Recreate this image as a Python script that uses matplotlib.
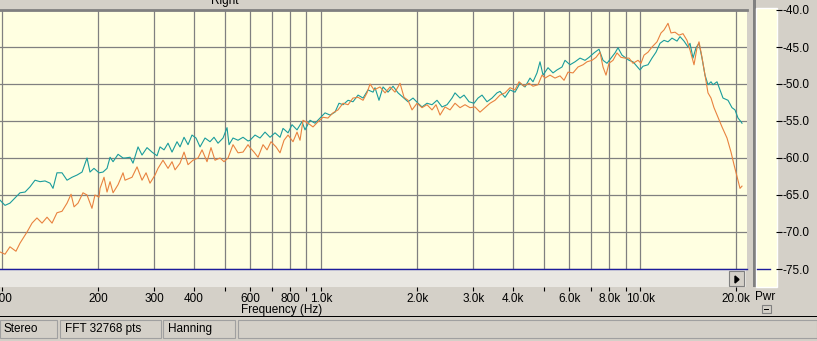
import matplotlib.pyplot as plt
from matplotlib.patches import Rectangle, Polygon
from matplotlib.ticker import NullLocator

# spectrum, right channel: two traces (teal / orange), frequency in Hz, level in dB
teal_freq = [98.6, 102.2, 105.9, 109.8, 113.9, 118.1, 122.4, 126.9, 131.6, 136.4,
             141.4, 144.5, 148.7, 154.2, 159.9, 165.8, 171.9, 178.2, 184.7, 188.7,
             194.2, 201.4, 207.3, 213.4, 218.1, 222.9, 231.1, 239.5,
             243.0, 251.9, 257.4, 266.9, 274.7, 284.8, 295.2, 306.1, 312.8, 322.0,
             331.4, 341.1, 353.6, 361.4, 372.0, 382.9, 394.0, 405.6, 417.5, 432.8,
             448.7, 461.8, 475.4, 492.9, 507.3, 514.7, 529.7, 549.2, 569.4, 590.3,
             598.9, 620.9, 643.7, 667.3, 691.9, 717.3, 743.7, 760.0, 787.9, 810.9,
             840.7, 871.6, 890.7, 923.4, 957.3, 992.5, 1029, 1067, 1106, 1138,
             1172, 1215, 1259, 1306, 1354, 1403, 1455,
             1476, 1519, 1564, 1621, 1681, 1743, 1807, 1873, 1942, 2013,
             2072, 2148, 2227, 2309, 2394, 2482, 2573, 2629, 2726, 2806,
             2909, 3016, 3104, 3195, 3312, 3434, 3560,
             3638, 3772, 3910, 4054, 4203, 4357, 4517, 4616, 4751, 4855,
             4962, 5144, 5333, 5489, 5691, 5815, 6029, 6250, 6480, 6718,
             6915, 7169, 7432, 7650, 7874, 8105, 8342, 8525, 8774,
             8966, 9229, 9499, 9848, 9991, 10210, 10585, 10895, 11214, 11542,
             11880, 12228, 12586, 13049, 13334, 13725, 14126, 14332, 14646, 14966,
             15294, 15628, 15970, 16319, 16677, 16919, 17415, 17796, 18186, 18854,
             19406, 19831, 20265, 20708, 20858]
teal_db = [-65.7, -66.4, -66.1, -65.4, -64.7, -64.6, -63.9, -63.0, -63.2, -63.1,
           -63.4, -64.1, -62.0, -62.0, -63.0, -62.6, -62.3, -61.9, -60.0, -61.9,
           -61.4, -62.0, -61.9, -61.4, -59.9, -60.5, -59.5, -60.0,
           -60.0, -59.9, -60.7, -58.5, -59.6, -58.6, -59.2, -59.7, -58.5, -58.9,
           -58.0, -59.2, -57.8, -58.5, -57.2, -58.2, -56.9, -57.3, -58.5, -57.3,
           -57.8, -57.2, -58.0, -57.3, -55.9, -58.2, -57.3, -57.6, -57.2, -57.7,
           -57.6, -56.9, -57.3, -56.5, -57.2, -56.6, -57.2, -56.0, -56.6, -55.5,
           -56.2, -55.1, -56.2, -54.9, -55.3, -54.6, -53.9, -54.2, -53.8, -52.6,
           -52.8, -52.2, -52.4, -51.5, -51.9, -50.8, -51.1,
           -50.5, -52.2, -50.4, -51.1, -50.3, -51.2, -51.8, -52.4, -51.9, -52.6,
           -53.1, -52.6, -52.8, -52.2, -53.1, -52.8, -51.9, -51.2, -51.9, -51.5,
           -52.4, -52.6, -51.9, -51.5, -52.4, -51.9, -51.2,
           -51.0, -51.8, -50.8, -51.1, -49.9, -50.4, -49.2, -49.7, -48.5, -47.0,
           -48.8, -47.8, -48.5, -48.1, -47.7, -46.8, -47.4, -47.0, -46.5, -46.8,
           -46.4, -45.8, -45.3, -46.8, -47.2, -46.5, -45.8, -45.1, -46.1,
           -46.4, -46.8, -47.0, -47.8, -48.1, -47.6, -47.4, -46.5, -45.7, -44.5,
           -44.1, -44.3, -43.8, -44.2, -43.6, -44.2, -45.0, -44.5, -46.5, -45.1,
           -44.5, -46.5, -48.8, -50.1, -49.7, -50.1, -49.7, -50.8, -51.9, -52.2,
           -53.2, -53.5, -54.6, -55.1, -55.3]

orange_freq = [98.6, 102.2, 105.9, 110.6, 113.9, 119.8, 124.2, 128.7, 133.5, 138.4,
               143.5, 148.7, 154.2, 159.9, 164.6, 168.2, 173.1, 179.4, 184.7, 191.4,
               195.6, 201.4, 202.9, 208.8, 213.4, 218.1, 222.9, 231.1, 239.5,
               243.0, 255.6, 265.0, 274.7, 282.8, 291.0, 301.7, 308.3, 319.6, 331.4,
               341.1, 348.6, 361.4, 372.0, 382.9, 396.9, 411.5, 423.6, 439.1, 451.9,
               465.2, 482.3, 496.4, 511.0, 529.7, 549.2, 569.4, 590.3,
               598.9, 616.4, 634.5, 657.8, 677.1, 696.9, 722.5, 743.7, 765.5, 787.9,
               816.8, 840.7, 859.1, 877.9, 910.2, 943.6, 978.3, 1014, 1051, 1090,
               1130, 1172, 1215, 1259, 1306, 1354, 1393, 1424, 1466,
               1530, 1587, 1645, 1705, 1768, 1820, 1873, 1928, 1999, 2072,
               2148, 2227, 2292, 2360, 2446, 2536, 2629, 2726, 2826, 2930,
               3037, 3149, 3265, 3385, 3509,
               3638, 3772, 3910, 4054, 4173, 4326, 4485, 4616, 4786, 4926,
               5034, 5219, 5410, 5609, 5774, 5943, 6161, 6387, 6622, 6816,
               7066, 7273, 7486, 7650, 7817, 7988, 8222, 8463, 8711,
               8966, 9229, 9499, 9848, 10063, 10284, 10585, 10895, 11295, 11626,
               11880, 12228, 12496, 12862, 13238, 13626, 14025, 14332, 14752, 15075,
               15294, 15628, 15970, 16319, 16677, 17042, 17541, 18055, 18718, 19266,
               19688, 20265, 20559, 20858]
orange_db = [-72.7, -73.0, -72.0, -72.6, -71.5, -70.0, -68.8, -68.1, -68.8, -68.0,
             -68.8, -67.4, -67.2, -66.1, -64.9, -66.6, -66.1, -64.7, -65.0, -66.8,
             -65.0, -65.3, -64.1, -62.6, -64.6, -63.2, -64.7, -63.6, -62.0,
             -63.0, -62.6, -61.2, -63.0, -62.0, -63.4, -62.3, -61.4, -60.3, -61.4,
             -60.5, -61.6, -60.7, -59.2, -60.9, -60.3, -60.0, -58.9, -60.5, -58.6,
             -60.3, -60.0, -60.5, -60.0, -58.2, -59.3, -59.2, -58.2,
             -58.6, -59.2, -59.9, -58.2, -58.9, -57.8, -58.5, -59.3, -57.6, -56.9,
             -57.8, -56.5, -57.6, -54.9, -55.3, -55.8, -55.1, -54.5, -54.6, -53.9,
             -53.5, -52.6, -52.8, -51.9, -51.8, -52.2, -51.2, -50.0, -50.8,
             -50.4, -51.2, -50.4, -51.1, -49.9, -51.8, -52.2, -53.5, -52.6, -53.2,
             -52.8, -53.5, -52.8, -54.2, -53.1, -53.5, -52.6, -53.2, -52.8, -53.2,
             -53.1, -53.8, -53.2, -52.6, -52.2,
             -51.5, -51.2, -50.5, -50.8, -49.7, -50.3, -49.9, -50.3, -50.1, -48.8,
             -49.2, -48.8, -49.2, -48.9, -49.5, -48.4, -48.5, -47.7, -47.4, -47.0,
             -46.8, -46.4, -45.7, -47.7, -48.8, -47.2, -46.8, -45.8, -46.4,
             -46.5, -46.5, -47.2, -46.8, -47.2, -46.1, -45.7, -45.0, -44.3, -43.1,
             -42.7, -41.8, -43.1, -43.0, -43.4, -43.2, -44.1, -45.4, -47.4, -45.1,
             -44.3, -46.4, -48.8, -51.2, -51.9, -53.2, -54.5, -55.8, -57.3, -59.2,
             -60.9, -63.0, -64.1, -63.8]

tick_freqs = [100, 200, 300, 400, 500, 600, 700, 800, 900, 1000,
              2000, 3000, 4000, 5000, 6000, 7000, 8000, 9000, 10000, 20000]
tick_labels = ['100', '200', '300', '400', '', '600', '', '800', '', '1.0k',
               '2.0k', '3.0k', '4.0k', '', '6.0k', '', '8.0k', '', '10.0k', '20.0k']
pwr_ticks = [-40, -45, -50, -55, -60, -65, -70, -75]
pwr_labels = ['-40.0', '-45.0', '-50.0', '-55.0', '-60.0', '-65.0', '-70.0', '-75.0']

W, H = 817, 341
GRAY = '#d4d0c8'
YELLOW = '#ffffe1'
plt.rcParams['font.family'] = ['Liberation Sans', 'DejaVu Sans']
plt.rcParams['font.size'] = 8.5


def box(x0, y0, x1, y1):
    # pixel box, origin top-left -> figure fraction
    return [x0 / W, 1 - y1 / H, (x1 - x0) / W, (y1 - y0) / H]


def rect(x0, y0, x1, y1, **kw):
    l, b, w, h = box(x0, y0, x1, y1)
    fig.patches.append(Rectangle((l, b), w, h, transform=fig.transFigure,
                                 zorder=-1, **kw))


def ftext(x, y, s, **kw):
    fig.text(x / W, 1 - y / H, s, **kw)


fig = plt.figure(figsize=(W / 100, H / 100), dpi=100, facecolor=GRAY)

# window chrome (drawn under the axes)
rect(0, 269.5, 746, 287, facecolor='#e9e7e2', edgecolor='none')
rect(729, 271, 744, 286, facecolor=GRAY, edgecolor='#808080', lw=0.8)
pts = [(735 / W, 1 - 276 / H), (735 / W, 1 - 283 / H), (739 / W, 1 - 279.5 / H)]
fig.patches.append(Polygon(pts, closed=True, transform=fig.transFigure,
                           color='black', zorder=-1))
rect(753, 0, 756, 287, facecolor='#808080', edgecolor='none')
rect(756, 8, 777, 287, facecolor=YELLOW, edgecolor='white', lw=1)
rect(762, 305, 771, 313, facecolor=GRAY, edgecolor='#808080', lw=0.8)
rect(764, 309, 769, 310, facecolor='black', edgecolor='none')
rect(0, 315.5, W, 317, facecolor='black', edgecolor='none')
for x0, x1 in [(0, 57), (60, 161), (163, 235), (238, 817)]:
    rect(x0, 320, x1, 338, facecolor='none', edgecolor='#a0a0a0', lw=0.8)

ftext(225, 4, 'Right', ha='center', va='baseline')
ftext(282, 310, 'Frequency (Hz)', ha='center', va='center')
ftext(765, 297, 'Pwr', ha='center', va='center')
ftext(3, 329, 'Stereo', ha='left', va='center')
ftext(65, 329, 'FFT 32768 pts', ha='left', va='center')
ftext(168, 329, 'Hanning', ha='left', va='center')

# main plot
ax = fig.add_axes(box(0, 10, 747, 269))
ax.set_facecolor(YELLOW)
ax.set_xscale('log')
ax.set_xlim(98.57, 21624)
ax.set_ylim(-75, -40)
ax.set_xticks(tick_freqs)
ax.xaxis.set_minor_locator(NullLocator())
ax.set_yticks(pwr_ticks)
ax.tick_params(length=0, labelbottom=False, labelleft=False)
ax.grid(True, color='#808080', lw=0.9)
ax.set_axisbelow(True)
for s in ['left', 'right']:
    ax.spines[s].set_visible(False)
ax.spines['top'].set_color('#808080')
ax.spines['top'].set_linewidth(2)
ax.spines['bottom'].set_color('#1c1c9c')
ax.spines['bottom'].set_linewidth(1)

ax.plot(teal_freq, teal_db, color='#1a9c9c', lw=0.8)
ax.plot(orange_freq, orange_db, color='#e8823f', lw=0.8)

# frequency labels below the scrollbar
axt = fig.add_axes(box(0, 286.9, 747, 287))
axt.set_xscale('log')
axt.set_xlim(98.57, 21624)
axt.patch.set_visible(False)
for s in axt.spines.values():
    s.set_visible(False)
axt.set_yticks([])
axt.set_xticks(tick_freqs)
axt.set_xticklabels(tick_labels)
axt.xaxis.set_minor_locator(NullLocator())
axt.tick_params(axis='x', direction='out', length=3, width=0.8, pad=1)

# power scale on the right
axr = fig.add_axes(box(756, 10, 776, 269))
axr.set_xlim(0, 1)
axr.set_ylim(-75, -40)
axr.patch.set_visible(False)
for s in axr.spines.values():
    s.set_visible(False)
axr.set_xticks([])
axr.yaxis.tick_right()
axr.set_yticks(pwr_ticks)
axr.set_yticklabels(pwr_labels)
axr.tick_params(axis='y', direction='out', length=4, width=0.8, pad=1)
axr.plot([0.05, 0.7], [-75, -75], color='#1c1c9c', lw=1, clip_on=False)

fig.savefig('out.png', dpi=100, facecolor=GRAY)
